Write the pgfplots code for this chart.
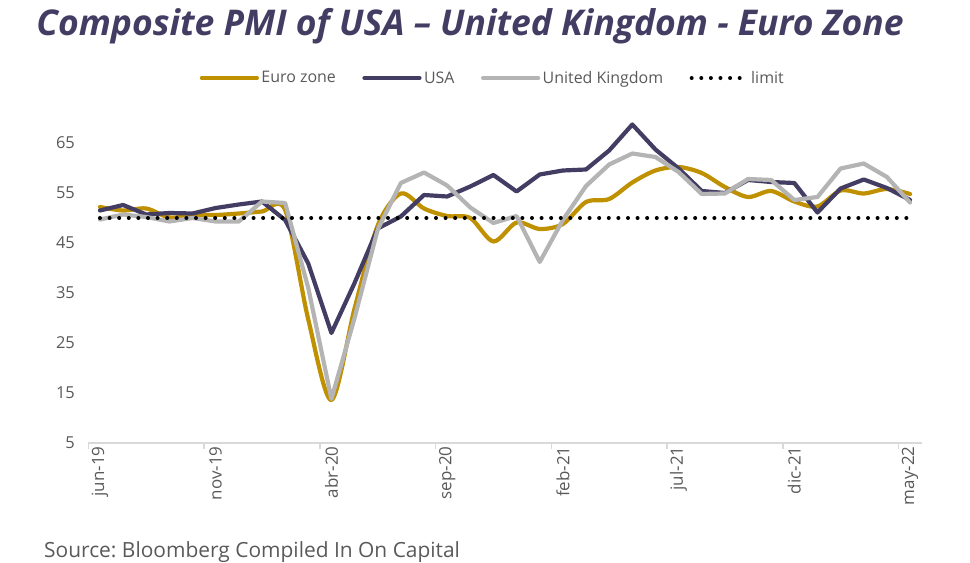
\documentclass[border=0pt]{standalone}
\usepackage{pgfplots}
\pgfplotsset{compat=1.18}
\usepackage{fontspec}
\setmainfont{Open Sans}
\frenchspacing
\definecolor{eurogold}{HTML}{BF9000}
\definecolor{usapurple}{HTML}{433D63}
\definecolor{ukgray}{HTML}{B4B4B4}
\definecolor{txtgray}{HTML}{595959}
\definecolor{axgray}{HTML}{D9D9D9}

\pgfplotstableread{
i euro usa uk
0 52.2 51.5 49.7
1 51.5 52.6 50.7
2 51.9 50.7 50.2
3 50.1 51.0 49.3
4 50.6 50.9 50.0
5 50.6 52.0 49.3
6 50.9 52.7 49.3
7 51.3 53.3 53.3
8 51.6 49.6 53.0
9 29.7 40.9 36.0
10 13.6 27.0 13.8
11 31.9 37.0 30.0
12 48.5 47.9 47.7
13 54.9 50.3 57.0
14 51.9 54.6 59.1
15 50.4 54.3 56.5
16 50.0 56.3 52.1
17 45.3 58.6 49.0
18 49.1 55.3 50.4
19 47.8 58.7 41.2
20 48.8 59.5 49.6
21 53.2 59.7 56.4
22 53.8 63.5 60.7
23 57.1 68.7 62.9
24 59.5 63.7 62.2
25 60.2 59.9 59.2
26 59.0 55.4 54.8
27 56.2 55.0 54.9
28 54.2 57.6 57.8
29 55.4 57.2 57.6
30 53.3 57.0 53.6
31 52.3 51.1 54.2
32 55.5 55.9 59.9
33 54.9 57.7 60.9
34 55.8 56.0 58.2
35 54.8 53.6 53.1
}\pmidata

\begin{document}
\begin{tikzpicture}[x=1bp,y=1bp]
\useasboundingbox (0,0) rectangle (970,563);
\node[anchor=base, font=\fontsize{35.6}{40}\selectfont\bfseries\itshape, text=usapurple, inner sep=0pt] at (470,527) {Composite PMI of USA – United Kingdom - Euro Zone};
\node[anchor=base west, font=\fontsize{21}{24}\selectfont, text=txtgray, inner sep=0pt] at (44,5) {Source: Bloomberg Compiled In On Capital};
\begin{axis}[
  at={(88.4bp,120bp)}, anchor=south west,
  scale only axis, width=833.2bp, height=325bp,
  xmin=-0.5, xmax=35.5, ymin=5, ymax=70,
  clip=false,
  axis x line*=bottom, axis y line*=left,
  y axis line style={draw=none},
  x axis line style={axgray, line width=1.5bp},
  ytick={5,15,25,35,45,55,65},
  ytick style={draw=none},
  yticklabel style={font=\fontsize{16.5}{18}\selectfont, text=txtgray, xshift=-4bp},
  /pgf/number format/assume math mode=true,
  xtick={-0.5,4.5,...,34.5},
  xticklabels={},
  tick align=outside,
  xtick style={axgray, line width=1.5bp},
  major tick length=6bp,
  extra x ticks={0,5,10,15,20,25,30,35},
  extra x tick labels={jun-19,nov-19,abr-20,sep-20,feb-21,jul-21,dic-21,may-22},
  extra x tick style={major tick length=0pt, xticklabel style={rotate=90, anchor=east, font=\fontsize{17}{19}\selectfont, text=txtgray}},
  legend columns=4,
  legend style={at={(0.4856,1.123)}, anchor=center, draw=none, fill=none,
    font=\fontsize{16}{18}\selectfont, text=txtgray,
    /tikz/every even column/.append style={column sep=24bp},
    nodes={inner sep=2.5bp}},
  legend image code/.code={\draw[#1] (0bp,0bp) -- (55bp,0bp);},
]
\addplot[eurogold, line width=4.2bp, smooth, tension=0.5, line cap=round, line join=round] table[x=i, y=euro] {\pmidata};
\addlegendentry{Euro zone}
\addplot[usapurple, line width=4.2bp, line cap=round, line join=round] table[x=i, y=usa] {\pmidata};
\addlegendentry{USA}
\addplot[ukgray, line width=4.2bp, line cap=round, line join=round] table[x=i, y=uk] {\pmidata};
\addlegendentry{United Kingdom}
\addplot[black, line width=4bp, line cap=round, dash pattern=on 0bp off 9.6bp] coordinates {(0,50) (35,50)};
\addlegendentry{limit}
\end{axis}
\end{tikzpicture}
\end{document}
